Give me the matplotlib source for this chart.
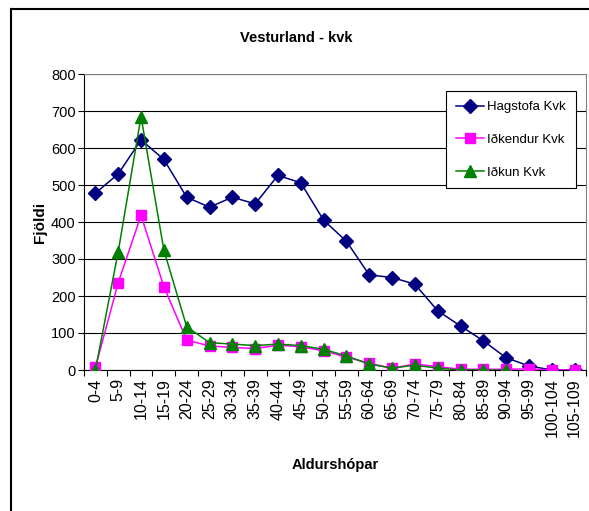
import numpy as np
import matplotlib
matplotlib.use('Agg')
import matplotlib.pyplot as plt
from matplotlib.lines import Line2D

plt.rcParams['font.family'] = ['Liberation Sans', 'DejaVu Sans']

# age groups
AGE_GROUPS = ['0-4', '5-9', '10-14', '15-19', '20-24', '25-29', '30-34', '35-39',
              '40-44', '45-49', '50-54', '55-59', '60-64', '65-69', '70-74', '75-79',
              '80-84', '85-89', '90-94', '95-99', '100-104', '105-109']

HAGSTOFA = [478, 530, 622, 569, 467, 440, 467, 449, 526, 506, 405, 348,
            257, 250, 232, 160, 119, 79, 33, 11, 0, 0]
IDKENDUR = [7, 236, 418, 225, 81, 65, 61, 58, 67, 63, 52, 35,
            18, 5, 16, 9, 2, 2, 2, 3, 0, 0]
IDKUN = [0, 320, 685, 324, 117, 74, 70, 66, 70, 66, 56, 38,
         16, 5, 13, 5, 0, 0, 0, np.nan, np.nan, np.nan]

SERIES_NAMES = ['Hagstofa Kvk', 'Iðkendur Kvk', 'Iðkun Kvk']

fig = plt.figure(figsize=(5.89, 5.11), dpi=100)
ax = fig.add_axes([84 / 589, 1 - 370 / 511, 502 / 589, 296 / 511])

x = np.arange(len(AGE_GROUPS))
ax.plot(x, HAGSTOFA, color='#000080', lw=1.1, marker='D', ms=7,
        mfc='#000080', mec='#000080', label=SERIES_NAMES[0], zorder=3)
ax.plot(x, IDKENDUR, color='#FF00FF', lw=1.1, marker='s', ms=6.5,
        mfc='#FF00FF', mec='#FF00FF', label=SERIES_NAMES[1], zorder=4)
ax.plot(x, IDKUN, color='#008000', lw=1.1, marker='^', ms=8,
        mfc='#008000', mec='#008000', label=SERIES_NAMES[2], zorder=5)

ax.set_xlim(-0.5, len(AGE_GROUPS) - 0.5)
ax.set_ylim(0, 800)
ax.set_yticks(range(0, 801, 100))
ax.tick_params(axis='y', labelsize=10.5, length=4, width=0.8, pad=2)
ax.yaxis.grid(True, color='black', lw=0.8)
ax.set_axisbelow(True)

# category labels between boundary ticks, Excel style
ax.set_xticks(x)
ax.set_xticklabels(AGE_GROUPS, rotation=90, fontsize=11.5, va='top')
ax.tick_params(axis='x', length=0, pad=6)
ax.set_xticks(np.arange(-0.5, len(AGE_GROUPS)), minor=True)
ax.tick_params(axis='x', which='minor', length=4, width=0.8, direction='out')

for side in ['top', 'right']:
    ax.spines[side].set_color('#808080')
for side in ['left', 'bottom']:
    ax.spines[side].set_color('black')

ax.set_xlabel('Aldurshópar', fontsize=10.5, fontweight='bold', labelpad=15)
ax.set_ylabel('Fjöldi', fontsize=11, fontweight='bold', labelpad=3)
fig.text(296 / 589, 1 - 38 / 511, 'Vesturland - kvk', ha='center', va='center',
         fontsize=10.5, fontweight='bold')

leg = ax.legend(loc='upper right', bbox_to_anchor=(576 / 589, 1 - 91 / 511),
                bbox_transform=fig.transFigure, fontsize=9.5, frameon=True,
                fancybox=False, edgecolor='black', framealpha=1,
                handlelength=2.1, labelspacing=1.55, borderpad=0.75,
                handletextpad=0.3, borderaxespad=0)
leg.get_frame().set_linewidth(0.8)

# outer chart frame
fig.add_artist(Line2D([11 / 589, 11 / 589], [0, 1 - 9 / 511], color='black',
                      lw=1.5, transform=fig.transFigure))
fig.add_artist(Line2D([11 / 589, 1], [1 - 9 / 511, 1 - 9 / 511], color='black',
                      lw=1.5, transform=fig.transFigure))

fig.savefig('out.png', dpi=100)
